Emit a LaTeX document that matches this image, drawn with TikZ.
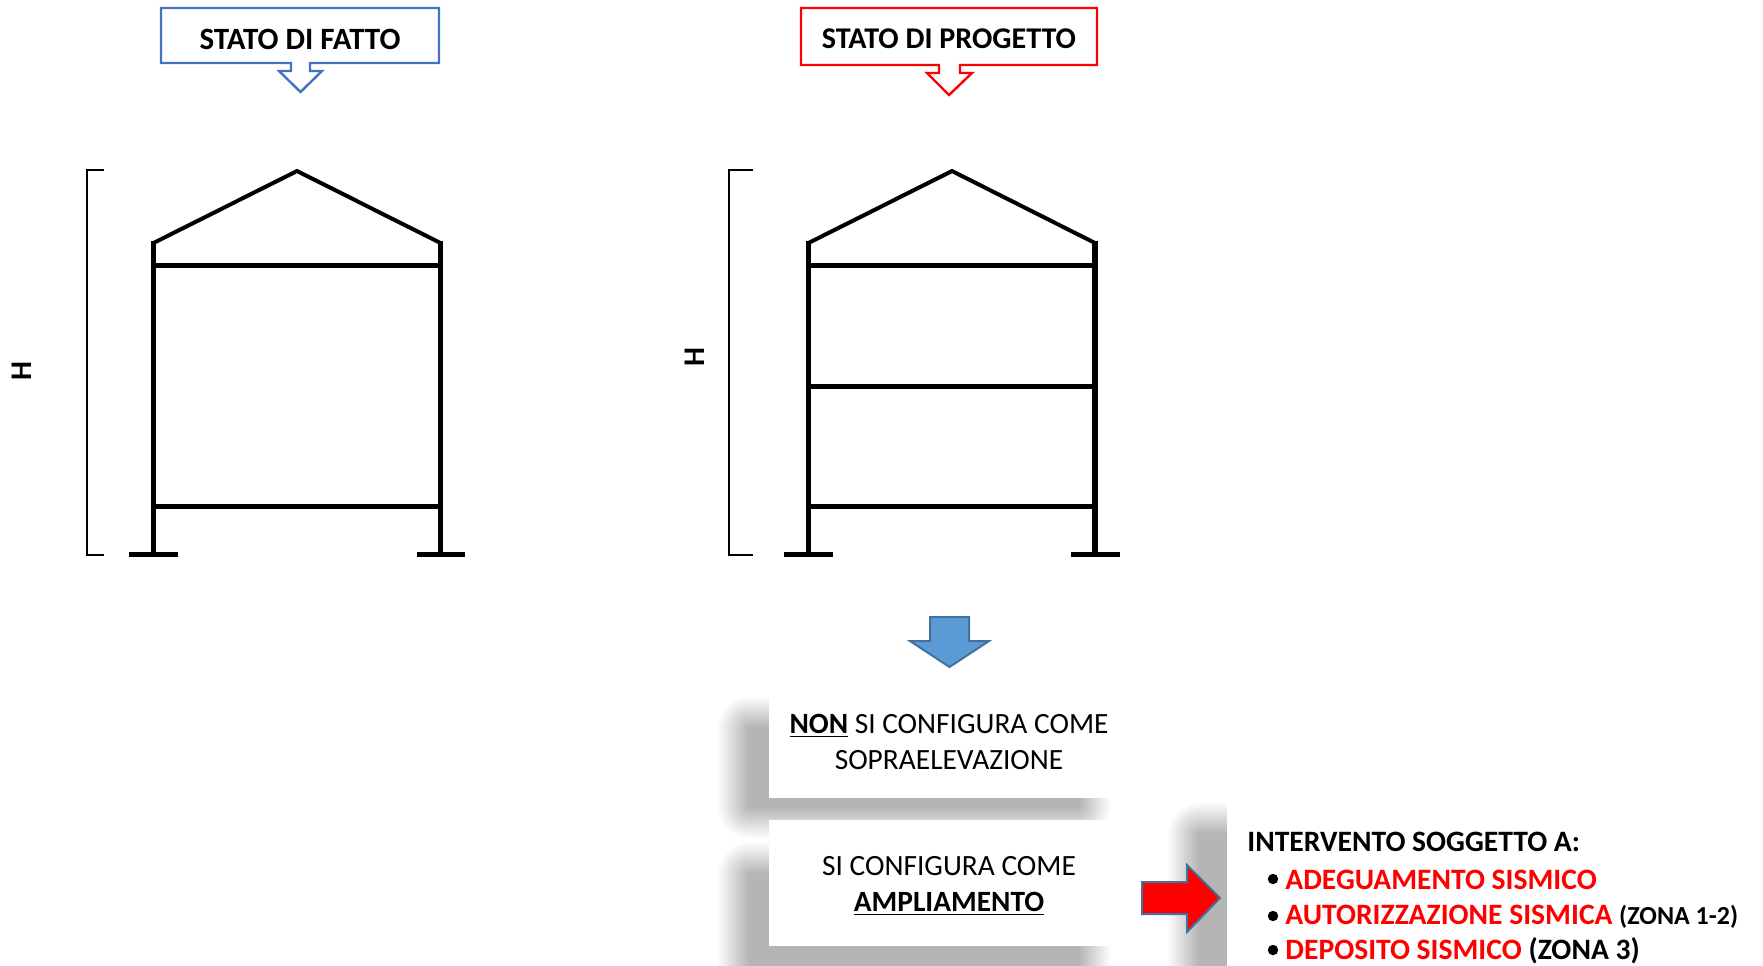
\documentclass[tikz,border=0pt]{standalone}
\usepackage{fontspec}
\setmainfont{Carlito}
\usetikzlibrary{calc}
\definecolor{calloutblue}{HTML}{4472C4}
\definecolor{arrowblue}{HTML}{5B9BD5}
\definecolor{arrowedge}{HTML}{41719C}
\tikzset{
    frame line/.style={line width=2.6pt,line cap=butt},
    roof line/.style={line width=2pt,line join=miter},
    height bracket/.style={line width=.8pt},
    callout blue/.style={draw=calloutblue,fill=white,line width=1.2pt},
    callout red/.style={draw=red,fill=white,line width=1.2pt},
    block arrow/.style={draw=arrowedge,line width=1pt},
    title text/.style={font=\fontsize{#1}{18}\selectfont\bfseries},
    height text/.style={font=\fontsize{15}{18}\selectfont\bfseries,rotate=90},
    box text/.style={align=center,inner sep=0pt,font=\fontsize{14.7}{18}\selectfont},
    list text/.style={anchor=west,inner sep=0pt,font=\fontsize{14.8}{18}\selectfont\bfseries},
    red text/.style={text=red},
    list dot/.style={circle,fill=black,inner sep=0pt,minimum size=5.2pt},
}
% frame: #1 left column, #2 right column, #3 apex
\newcommand{\houseframe}[3]{
    \draw[roof line] (#1,243) -- (#3,171) -- (#2,243);
    \draw[frame line] (#1,241) -- (#1,555);
    \draw[frame line] (#2,241) -- (#2,555);
    \draw[frame line] (#1,265.5) -- (#2,265.5);
    \draw[frame line] (#1,506.5) -- (#2,506.5);
    \draw[frame line] (#1-24.5,554.5) -- (#1+24,554.5);
    \draw[frame line] (#2-24,554.5) -- (#2+24.5,554.5);
}
% blurred shadow: outer corners (#1,#2) and (#3,#4)
\newcommand{\softshadow}[4]{
    \foreach \i in {0,...,15}{
        \pgfmathsetmacro{\lev}{29*(\i+1)/16}
        \pgfmathsetmacro{\rad}{16-\i+.1}
        \fill[black!\lev,rounded corners=\rad pt] (#1+2*\i,#2+2*\i) rectangle (#3-2*\i,#4-2*\i);
    }
}
\begin{document}
\begin{tikzpicture}[x=.5pt,y=-.5pt]
    \useasboundingbox (0,0) rectangle (1763,965);
    \clip (0,0) rectangle (1763,965);

    % callouts
    \draw[callout blue] (161,8) -- (439,8) -- (439,63) -- (310,63) -- (310,71) -- (322,71) -- (300.5,92)
        -- (279,71) -- (291,71) -- (291,63) -- (161,63) -- cycle;
    \node[title text=15.5] (fatto) at (300,39) {STATO DI FATTO};
    \draw[callout red] (801,8) -- (1097,8) -- (1097,65) -- (960,65) -- (960,73) -- (972,73) -- (949,95)
        -- (927,73) -- (939,73) -- (939,65) -- (801,65) -- cycle;
    \node[title text=15.05] (progetto) at (949,39) {STATO DI PROGETTO};

    % frames
    \houseframe{153.5}{440.5}{297}
    \houseframe{808.5}{1095}{952}
    \draw[frame line] (808.5,386.5) -- (1095,386.5);

    % height marks
    \draw[height bracket] (104,170) -- (87,170) -- (87,555) -- (104,555);
    \draw[height bracket] (753,170) -- (729,170) -- (729,555) -- (753,555);
    \node[height text] (hfatto) at (22,371) {H};
    \node[height text] (hprogetto) at (695,357) {H};

    % shadows
    \softshadow{718}{697}{1110}{838}
    \softshadow{718}{843}{1110}{1000}
    \softshadow{1168}{803}{1300}{1000}

    % boxes
    \fill[white] (769,680) rectangle (1130,798);
    \fill[white] (769,820) rectangle (1130,946);
    \fill[white] (1227,780) rectangle (1340,966);
    \node[box text] (non) at (949,742) {\textbf{\underline{NON}} SI CONFIGURA COME\\SOPRAELEVAZIONE};
    \node[box text] (ampl) at (949,886) {SI CONFIGURA COME\\\textbf{\underline{AMPLIAMENTO}}};

    % block arrows
    \draw[block arrow,fill=arrowblue] (930,617) -- (969,617) -- (969,641) -- (989,641) -- (949.5,667)
        -- (910,641) -- (930,641) -- cycle;
    \draw[block arrow,fill=red] (1142,882) -- (1187,882) -- (1187,865) -- (1220,898) -- (1187,932)
        -- (1187,914) -- (1142,914) -- cycle;

    % list
    \node[list text] (intervento) at (1247,841.5) {INTERVENTO SOGGETTO A:};
    \node[list dot] (dota) at (1273,879) {};
    \node[list text,red text] (adeg) at (1285,880) {ADEGUAMENTO SISMICO};
    \node[list dot] (dotb) at (1273,916) {};
    \node[list text] (autor) at (1285,917) {\textcolor{red}{AUTORIZZAZIONE SISMICA} {\fontsize{13}{18}\selectfont(ZONA 1-2)}};
    \node[list dot] (dotc) at (1273,950) {};
    \node[list text] (depos) at (1285,951) {\textcolor{red}{DEPOSITO SISMICO} (ZONA 3)};
\end{tikzpicture}
\end{document}
